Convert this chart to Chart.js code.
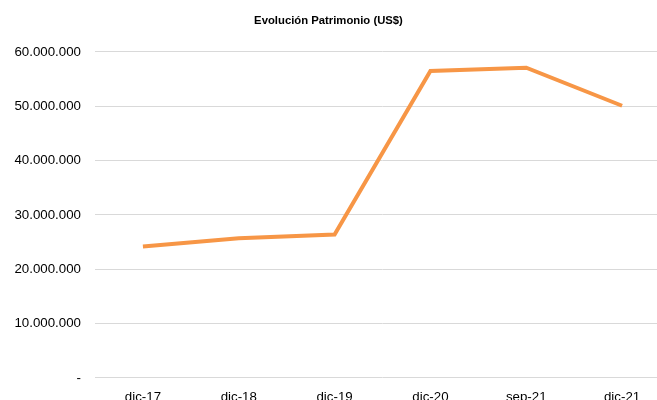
<!DOCTYPE html>
<html>
<head>
<meta charset="utf-8">
<script src="https://cdn.jsdelivr.net/npm/chart.js@4"></script>
<style>
html,body{margin:0;padding:0;background:#fff;overflow:hidden;}
#wrap{width:657px;height:400px;overflow:hidden;}
</style>
</head>
<body>
<div id="wrap"><canvas id="c" width="672" height="400"></canvas></div>
<script>
const categories = ['dic-17','dic-18','dic-19','dic-20','sep-21','dic-21'];
const patrimonio = [24200000, 25700000, 26400000, 56500000, 57100000, 50100000];
const yTicks = [0, 10000000, 20000000, 30000000, 40000000, 50000000, 60000000];
const chartTitle = 'Evolución Patrimonio (US$)';

function fmt(v){
  if (v === 0) return '-';
  return String(Math.round(v)).replace(/\B(?=(\d{3})+(?!\d))/g, '.');
}

// keep the title centred on the visible 657px page
const titleCenter = {
  id: 'titleCenter',
  afterLayout(chart){
    const t = chart.titleBlock;
    if (t){ t.left = 0; t.right = 657; t.width = 657; }
  }
};

new Chart(document.getElementById('c'), {
  type: 'line',
  data: {
    labels: categories,
    datasets: [{
      data: patrimonio,
      borderColor: '#F79646',
      borderWidth: 4,
      pointRadius: 0,
      tension: 0,
      fill: false
    }]
  },
  options: {
    responsive: false,
    animation: false,
    layout: { padding: { left: 0, right: 2, top: 0, bottom: 0 } },
    plugins: {
      legend: { display: false },
      tooltip: { enabled: false },
      title: {
        display: true,
        text: chartTitle,
        color: '#000',
        font: { family: 'Liberation Sans', size: 11.3, weight: 'bold' },
        padding: { top: 14, bottom: 24.4 }
      }
    },
    scales: {
      x: {
        offset: true,
        afterFit: (axis) => { axis.height = 22; },
        grid: { display: false },
        border: { display: false },
        ticks: {
          color: '#000',
          font: { family: 'Liberation Sans', size: 13.3 },
          padding: 3,
          maxRotation: 0
        }
      },
      y: {
        min: 0,
        max: 60000000,
        afterBuildTicks: (axis) => { axis.ticks = yTicks.map(v => ({ value: v })); },
        afterFit: (axis) => { axis.width = 95; },
        grid: { color: '#d9d9d9', lineWidth: 1, drawTicks: false },
        border: { display: false },
        ticks: {
          color: '#000',
          font: { family: 'Liberation Sans', size: 13.3 },
          padding: 14,
          callback: (v) => fmt(v)
        }
      }
    }
  },
  plugins: [titleCenter]
});
</script>
</body>
</html>
